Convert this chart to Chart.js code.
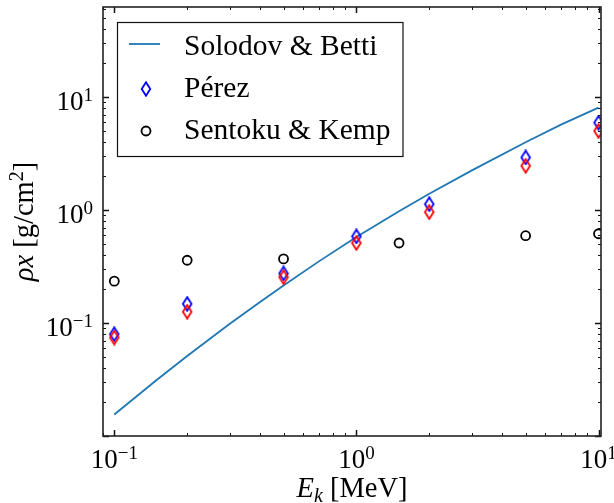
<!DOCTYPE html>
<html><head><meta charset="utf-8">
<script src="https://cdn.jsdelivr.net/npm/chart.js@4.4.1/dist/chart.umd.min.js"></script>
<style>html,body{margin:0;padding:0;background:#fff}</style>
</head><body>
<canvas id="c" width="614" height="503"></canvas>
<script>
// ---- data ----
const solodovX = [0.1, 0.15, 0.2, 0.3, 0.4, 0.5, 0.7, 1, 1.5, 2, 3, 5, 7, 10];
const solodovY = [0.0155, 0.0315, 0.0511, 0.0985, 0.154, 0.2157, 0.352, 0.578, 0.98, 1.40, 2.25, 4.0, 5.72, 8.1];
const perezX = [0.1, 0.2, 0.5, 1, 2, 5, 10];
const perezBlueY = [0.0797, 0.148, 0.275, 0.586, 1.13, 2.93, 5.96];
const perezRedY = [0.0745, 0.126, 0.255, 0.512, 0.96, 2.47, 5.03];
const sentokuX = [0.1, 0.2, 0.5, 1.5, 5, 10];
const sentokuY = [0.235, 0.36, 0.37, 0.512, 0.594, 0.618];
const xTickValues = [0.1, 1, 10];
const xTickExps = ['\u22121', '0', '1'];
const yTickValues = [0.1, 1, 10];
const yTickExps = ['\u22121', '0', '1'];
const legendLabels = ['Solodov & Betti', 'P\u00e9rez', 'Sentoku & Kemp'];

const FONT = '"Liberation Serif", "Times New Roman", serif';
const BIG = 27, SMALL = 19, TITLE = 28.5, TSMALL = 20, LEG = 29.5;

function diamond(color) {
  const c = document.createElement('canvas');
  c.width = 12; c.height = 16;
  const g = c.getContext('2d');
  g.strokeStyle = color; g.lineWidth = 1.8;
  g.beginPath(); g.moveTo(6, 1.2); g.lineTo(10.3, 8); g.lineTo(6, 14.8); g.lineTo(1.7, 8); g.closePath(); g.stroke();
  return c;
}
const blueDiamond = diamond('#0000ff');
const redDiamond = diamond('#ff0000');

const pts = (xs, ys) => xs.map((x, i) => ({x, y: ys[i]}));

function drawPow(ctx, base, exp, x, y, align, raise) {
  ctx.font = BIG + 'px ' + FONT;
  const wb = ctx.measureText(base).width;
  ctx.font = SMALL + 'px ' + FONT;
  const we = ctx.measureText(exp).width;
  const total = wb + we;
  let sx = align === 'center' ? x - total / 2 : x - total;
  ctx.textAlign = 'left'; ctx.textBaseline = 'alphabetic';
  ctx.font = BIG + 'px ' + FONT;
  ctx.fillText(base, sx, y);
  ctx.font = SMALL + 'px ' + FONT;
  ctx.fillText(exp, sx + wb, y - raise);
}

function drawRuns(ctx, runs, cx, y) {
  let total = 0;
  runs.forEach(r => { ctx.font = r.f; total += ctx.measureText(r.t).width; });
  let x = cx - total / 2;
  ctx.textAlign = 'left'; ctx.textBaseline = 'alphabetic';
  runs.forEach(r => { ctx.font = r.f; ctx.fillText(r.t, x, y + (r.dy || 0)); x += ctx.measureText(r.t).width; });
}

const decor = {
  id: 'decor',
  afterDraw(chart) {
    const ctx = chart.ctx, a = chart.chartArea, xs = chart.scales.x, ys = chart.scales.y;
    ctx.save();
    ctx.fillStyle = '#000'; ctx.strokeStyle = '#111';
    const ticksFor = (scale) => {
      const out = [];
      for (let e = -3; e <= 2; e++) for (let m = 1; m <= 9; m++) {
        const v = m * Math.pow(10, e);
        if (v >= scale.min * 0.999 && v <= scale.max * 1.001) out.push({v, major: m === 1});
      }
      return out;
    };
    ticksFor(xs).forEach(t => {
      const px = Math.round(xs.getPixelForValue(t.v)) + 0.5;
      const L = t.major ? 6 : 3;
      ctx.lineWidth = t.major ? 1.5 : 1;
      ctx.beginPath(); ctx.moveTo(px, a.bottom); ctx.lineTo(px, a.bottom - L);
      ctx.moveTo(px, a.top); ctx.lineTo(px, a.top + L); ctx.stroke();
    });
    ticksFor(ys).forEach(t => {
      const py = Math.round(ys.getPixelForValue(t.v)) + 0.5;
      const L = t.major ? 6 : 3;
      ctx.lineWidth = t.major ? 1.5 : 1;
      ctx.beginPath(); ctx.moveTo(a.left, py); ctx.lineTo(a.left + L, py);
      ctx.moveTo(a.right, py); ctx.lineTo(a.right - L, py); ctx.stroke();
    });
    ctx.lineWidth = 1.6; ctx.strokeStyle = '#222';
    ctx.strokeRect(a.left, a.top, a.right - a.left, a.bottom - a.top);
    ctx.fillStyle = '#000';
    xTickValues.forEach((v, i) => {
      drawPow(ctx, '10', xTickExps[i], xs.getPixelForValue(v), a.bottom + 32, 'center', 9);
    });
    yTickValues.forEach((v, i) => {
      drawPow(ctx, '10', yTickExps[i], a.left - 10, ys.getPixelForValue(v) + 12.5, 'right', 8.5);
    });
    const it = 'italic ' + TITLE + 'px ' + FONT, rg = TITLE + 'px ' + FONT;
    drawRuns(ctx, [
      {t: 'E', f: it}, {t: 'k', f: 'italic ' + TSMALL + 'px ' + FONT, dy: 5}, {t: ' [MeV]', f: rg}
    ], (a.left + a.right) / 2, 497);
    ctx.save();
    ctx.translate(33, (a.top + a.bottom) / 2);
    ctx.rotate(-Math.PI / 2);
    drawRuns(ctx, [
      {t: '\u03c1x', f: it}, {t: ' [g/cm', f: rg}, {t: '2', f: TSMALL + 'px ' + FONT, dy: -10}, {t: ']', f: rg}
    ], 0, 0);
    ctx.restore();
    // legend
    const lx = 117.5, ly = 22.5, lw = 285.5, lh = 134;
    ctx.fillStyle = '#fff'; ctx.fillRect(lx, ly, lw, lh);
    ctx.lineWidth = 1.2; ctx.strokeStyle = '#111'; ctx.strokeRect(lx, ly, lw, lh);
    const rows = [44, 89, 131];
    const bases = [55, 97, 139];
    ctx.strokeStyle = '#1f77b4'; ctx.lineWidth = 1.8;
    ctx.beginPath(); ctx.moveTo(129, rows[0]); ctx.lineTo(160, rows[0]); ctx.stroke();
    ctx.drawImage(blueDiamond, 146 - 6, rows[1] - 8);
    ctx.strokeStyle = '#000'; ctx.lineWidth = 1.8;
    ctx.beginPath(); ctx.arc(146, rows[2], 4.5, 0, Math.PI * 2); ctx.stroke();
    ctx.fillStyle = '#000'; ctx.font = LEG + 'px ' + FONT; ctx.textAlign = 'left'; ctx.textBaseline = 'alphabetic';
    legendLabels.forEach((t, i) => ctx.fillText(t, 184, bases[i]));
    ctx.restore();
  }
};

new Chart(document.getElementById('c'), {
  type: 'scatter',
  data: {
    datasets: [
      {label: 'Sentoku & Kemp', data: pts(sentokuX, sentokuY), pointStyle: 'circle', pointRadius: 4.5,
       borderColor: '#000', backgroundColor: 'rgba(0,0,0,0)', borderWidth: 1.8, order: 1},
      {label: 'P\u00e9rez (red)', data: pts(perezX, perezRedY), pointStyle: redDiamond, order: 2},
      {label: 'P\u00e9rez', data: pts(perezX, perezBlueY), pointStyle: blueDiamond, order: 3},
      {label: 'Solodov & Betti', data: pts(solodovX, solodovY), showLine: true, pointRadius: 0,
       borderColor: '#1f77b4', borderWidth: 1.8, order: 4}
    ]
  },
  options: {
    responsive: false, animation: false, devicePixelRatio: 1,
    layout: {padding: {left: 103, right: 13, top: 7, bottom: 67}},
    plugins: {legend: {display: false}, tooltip: {enabled: false}},
    scales: {
      x: {type: 'logarithmic', min: 0.0898, max: 10.24, grid: {display: false}, border: {display: false},
          ticks: {display: false}, afterFit(s) { s.height = 0; }},
      y: {type: 'logarithmic', min: 0.01, max: 63, grid: {display: false}, border: {display: false},
          ticks: {display: false}, afterFit(s) { s.width = 0; }}
    }
  },
  plugins: [decor]
});
</script>
</body></html>
